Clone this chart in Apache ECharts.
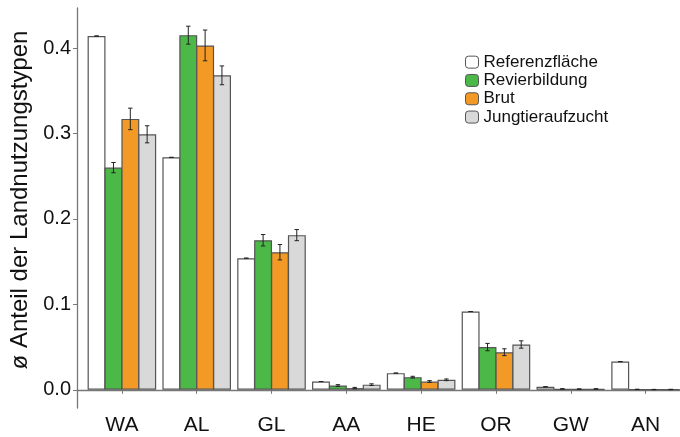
<!DOCTYPE html>
<html>
<head>
<meta charset="utf-8">
<script src="https://cdn.jsdelivr.net/npm/echarts@6/dist/echarts.min.js"></script>
<style>html,body{margin:0;padding:0;background:#fff}#c{width:680px;height:437px}</style>
</head>
<body>
<div id="c"></div>
<script>
var categories = ['WA', 'AL', 'GL', 'AA', 'HE', 'OR', 'GW', 'AN'];
var seriesNames = ['Referenzfläche', 'Revierbildung', 'Brut', 'Jungtieraufzucht'];
var referenz = [0.414, 0.272, 0.154, 0.0097, 0.0195, 0.0916, 0.0035, 0.033];
var revier   = [0.260, 0.415, 0.175, 0.005, 0.0148, 0.050, 0.001, 0.0005];
var brut     = [0.317, 0.403, 0.161, 0.002, 0.0097, 0.044, 0.0008, 0.0003];
var jungtier = [0.299, 0.368, 0.181, 0.006, 0.0117, 0.053, 0.001, 0.0004];
var referenzErr = [0, 0, 0, 0, 0, 0, 0, 0];
var revierErr   = [0.006, 0.0105, 0.0067, 0.001, 0.001, 0.0043, 0.0003, 0.0002];
var brutErr     = [0.0126, 0.018, 0.009, 0.0008, 0.001, 0.004, 0.0003, 0.0002];
var jungtierErr = [0.010, 0.011, 0.0065, 0.001, 0.001, 0.0043, 0.0003, 0.0002];
var yTicks = [0, 0.1, 0.2, 0.3, 0.4];

var values = [referenz, revier, brut, jungtier];
var errs = [referenzErr, revierErr, brutErr, jungtierErr];
var colors = ['#ffffff', '#4cb848', '#f39a26', '#d9d9d9'];
var xPos = categories.map(function (c, i) { return i + 1; });
var groupWidth = 0.9, nSeries = 4, unitPx = 75.1;
var barUnit = groupWidth / nSeries;
var font = 'Liberation Sans, Arial, Helvetica, sans-serif';

var series = [];
values.forEach(function (vals, s) {
  series.push({
    name: seriesNames[s],
    type: 'bar',
    data: vals.map(function (v, i) { return [xPos[i], v]; }),
    barWidth: barUnit * unitPx + 1,
    barGap: '-5.6%',
    itemStyle: { color: colors[s], borderColor: '#555', borderWidth: 1.2 },
    emphasis: { disabled: true },
    z: 2
  });
});
values.forEach(function (vals, s) {
  var off = (s - (nSeries - 1) / 2) * barUnit;
  series.push({
    type: 'custom',
    data: vals.map(function (v, i) { return [xPos[i] + off, v, errs[s][i]]; }),
    z: 5,
    silent: true,
    renderItem: function (params, api) {
      var x = api.value(0), y = api.value(1), e = api.value(2);
      var top = api.coord([x, y + e]);
      var bot = api.coord([x, y - e]);
      var hw = 2.2;
      var st = { stroke: '#222', lineWidth: 1 };
      return {
        type: 'group',
        children: [
          { type: 'line', shape: { x1: top[0], y1: top[1], x2: bot[0], y2: bot[1] }, style: st },
          { type: 'line', shape: { x1: top[0] - hw, y1: top[1], x2: top[0] + hw, y2: top[1] }, style: st },
          { type: 'line', shape: { x1: bot[0] - hw, y1: bot[1], x2: bot[0] + hw, y2: bot[1] }, style: st }
        ]
      };
    }
  });
});

var chart = echarts.init(document.getElementById('c'), null, { renderer: 'canvas' });
chart.setOption({
  animation: false,
  backgroundColor: '#fff',
  textStyle: { fontFamily: font },
  grid: { left: 75, right: 0, top: 8, bottom: 29, containLabel: false },
  legend: {
    data: seriesNames,
    orient: 'vertical',
    left: 460,
    top: 48,
    itemWidth: 13,
    itemHeight: 12,
    itemGap: 0,
    selectedMode: false,
    textStyle: { fontSize: 17, color: '#111', fontFamily: font, lineHeight: 18.3 },
    itemStyle: { borderColor: '#555', borderWidth: 1 }
  },
  xAxis: {
    type: 'value',
    min: 0.4,
    max: 8.46,
    splitLine: { show: false },
    axisLine: { show: true, lineStyle: { color: '#777', width: 1.3 } },
    axisTick: { show: true, length: 4, lineStyle: { color: '#777' }, customValues: xPos },
    axisLabel: {
      customValues: xPos,
      margin: 7,
      fontSize: 21,
      color: '#111',
      fontFamily: font,
      formatter: function (v) { return categories[Math.round(v) - 1] || ''; }
    }
  },
  yAxis: {
    type: 'value',
    min: -0.0213,
    max: 0.4468,
    name: 'ø Anteil der Landnutzungstypen',
    nameLocation: 'middle',
    nameGap: 45,
    nameTextStyle: { fontSize: 24, color: '#111', fontFamily: font, padding: [0, 0, 0, 16] },
    splitLine: { show: false },
    axisLine: { show: true, lineStyle: { color: '#777', width: 1.3 } },
    axisTick: { show: true, length: 4, lineStyle: { color: '#777' }, customValues: yTicks },
    axisLabel: {
      customValues: yTicks,
      margin: 6,
      fontSize: 20,
      color: '#111',
      fontFamily: font,
      formatter: function (v) { return v.toFixed(1); }
    }
  },
  series: series
});
</script>
</body>
</html>
